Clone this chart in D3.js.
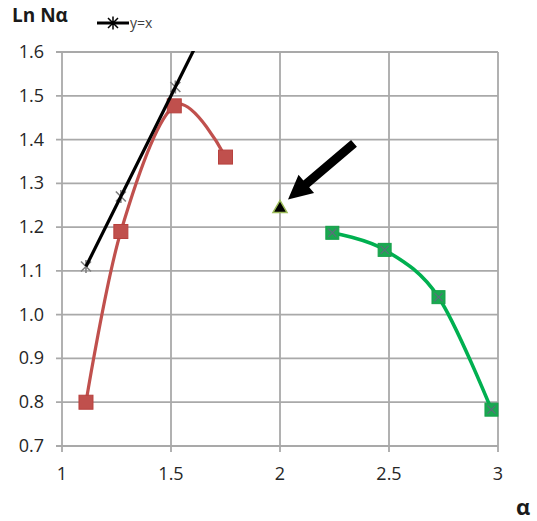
<!DOCTYPE html>
<html>
<head>
<meta charset="utf-8">
<script src="https://cdn.jsdelivr.net/npm/d3@7"></script>
<style>
  html, body { margin: 0; padding: 0; background: #fff; }
  svg { display: block; }
</style>
</head>
<body>
<svg id="chart" width="537" height="521"></svg>
<script>
// Ln Nα against α for the two branches, the y = x reference and the marked point
const redAlpha = [1.11, 1.27, 1.515, 1.75];
const redLnN   = [0.80, 1.19, 1.477, 1.36];
const refAlpha = [1.11, 1.27, 1.52, 1.75];
const refLnN   = [1.11, 1.27, 1.52, 1.75];
const greenAlpha = [2.24, 2.48, 2.727, 2.97];
const greenLnN   = [1.187, 1.148, 1.04, 0.783];
const markAlpha = [2.0];
const markLnN   = [1.245];
const xTicks = [1, 1.5, 2, 2.5, 3];
const yTicks = [0.7, 0.8, 0.9, 1.0, 1.1, 1.2, 1.3, 1.4, 1.5, 1.6];

const svg = d3.select("#chart");
const plotLeft = 62, plotRight = 498, plotTop = 52, plotBottom = 446;
const x = d3.scaleLinear().domain([1, 3]).range([plotLeft, plotRight]);
const y = d3.scaleLinear().domain([0.7, 1.6]).range([plotBottom, plotTop]);

const gridColor = "#a9a9a9";
const font = "'Open Sans', 'Liberation Sans', sans-serif";
const labelColor = "#262626";

// grid
svg.append("g").selectAll("line").data(yTicks).join("line")
  .attr("x1", plotLeft - 6).attr("x2", plotRight)
  .attr("y1", d => y(d)).attr("y2", d => y(d))
  .attr("stroke", gridColor).attr("stroke-width", 1.8);
svg.append("g").selectAll("line").data(xTicks).join("line")
  .attr("x1", d => x(d)).attr("x2", d => x(d))
  .attr("y1", plotTop).attr("y2", plotBottom + 6)
  .attr("stroke", gridColor).attr("stroke-width", 1.8);

// tick labels
svg.append("g").selectAll("text").data(yTicks).join("text")
  .attr("x", 44).attr("y", d => y(d) + 6)
  .attr("text-anchor", "end")
  .attr("font-family", font).attr("font-size", 18).attr("fill", labelColor)
  .text(d => d3.format(".1f")(d));
svg.append("g").selectAll("text").data(xTicks).join("text")
  .attr("x", d => x(d)).attr("y", 480)
  .attr("text-anchor", "middle")
  .attr("font-family", font).attr("font-size", 18).attr("fill", labelColor)
  .text(d => d3.format("~g")(d));

// axis titles
svg.append("text").attr("x", 12).attr("y", 22)
  .attr("font-family", font).attr("font-weight", "bold").attr("font-size", 19)
  .attr("fill", "#1a1a1a").text("Ln Nα");
svg.append("text").attr("x", 516).attr("y", 515)
  .attr("font-family", font).attr("font-weight", "bold").attr("font-size", 22)
  .attr("fill", "#1a1a1a").text("α");

// clip to plot area
svg.append("defs").append("clipPath").attr("id", "plot")
  .append("rect").attr("x", plotLeft).attr("y", plotTop - 1)
  .attr("width", plotRight - plotLeft + 6).attr("height", plotBottom - plotTop + 2);

const smooth = d3.line().curve(d3.curveCatmullRom.alpha(0))
  .x(d => x(d[0])).y(d => y(d[1]));

const red = d3.zip(redAlpha, redLnN);
const ref = d3.zip(refAlpha, refLnN);
const green = d3.zip(greenAlpha, greenLnN);

const plot = svg.append("g").attr("clip-path", "url(#plot)");

// star marker path
function star(cx, cy, r) {
  return `M${cx - r},${cy - r}L${cx + r},${cy + r}M${cx - r},${cy + r}L${cx + r},${cy - r}M${cx},${cy - r * 1.3}L${cx},${cy + r * 1.3}`;
}

// y = x star markers (underneath the line)
plot.append("g").selectAll("path").data(ref).join("path")
  .attr("d", d => star(x(d[0]), y(d[1]), 5))
  .attr("stroke", "#7f7f7f").attr("stroke-width", 1.6).attr("fill", "none");

// red branch
plot.append("path").datum(red).attr("d", smooth)
  .attr("fill", "none").attr("stroke", "#c0504d").attr("stroke-width", 3.2);
plot.append("g").selectAll("rect").data(red).join("rect")
  .attr("x", d => x(d[0]) - 7).attr("y", d => y(d[1]) - 7)
  .attr("width", 14).attr("height", 14)
  .attr("fill", "#c0504d").attr("stroke", "#b8413e").attr("stroke-width", 1);

// y = x line
plot.append("path").datum(ref)
  .attr("d", d3.line().x(d => x(d[0])).y(d => y(d[1])))
  .attr("fill", "none").attr("stroke", "#000").attr("stroke-width", 3.2);

// green branch
plot.append("path").datum(green).attr("d", smooth)
  .attr("fill", "none").attr("stroke", "#00b050").attr("stroke-width", 3.6);
const gm = plot.append("g").selectAll("g").data(green).join("g")
  .attr("transform", d => `translate(${x(d[0])},${y(d[1])})`);
gm.append("rect").attr("x", -6.5).attr("y", -6.5).attr("width", 13).attr("height", 13)
  .attr("fill", "#1aa851").attr("stroke", "#16a04a").attr("stroke-width", 1);
gm.append("path").attr("d", "M-4,-4L4,4M-4,4L4,-4")
  .attr("stroke", "#5a6f7a").attr("stroke-width", 1.3);

// marked point
const mark = d3.zip(markAlpha, markLnN);
plot.append("g").selectAll("path").data(mark).join("path")
  .attr("d", d => {
    const cx = x(d[0]), cy = y(d[1]);
    return `M${cx},${cy - 7}L${cx + 7},${cy + 5}L${cx - 7},${cy + 5}Z`;
  })
  .attr("fill", "#000").attr("stroke", "#9bbb59").attr("stroke-width", 1.5);

// arrow pointing at the marked point
const tipX = x(markAlpha[0]) + 8, tipY = y(markLnN[0]) - 8;
const tailX = tipX + 66, tailY = tipY - 56;
const ang = Math.atan2(tailY - tipY, tailX - tipX);
const len = Math.hypot(tailX - tipX, tailY - tipY);
const headLen = 24, headW = 12, shaftW = 4.5;
const arrow = svg.append("g")
  .attr("transform", `translate(${tipX},${tipY}) rotate(${ang * 180 / Math.PI})`);
arrow.append("path")
  .attr("d", `M0,0L${headLen},${-headW}L${headLen},${-shaftW}L${len},${-shaftW}L${len},${shaftW}L${headLen},${shaftW}L${headLen},${headW}Z`)
  .attr("fill", "#000");

// legend
const lg = svg.append("g");
lg.append("line").attr("x1", 97).attr("x2", 129).attr("y1", 23).attr("y2", 23)
  .attr("stroke", "#000").attr("stroke-width", 3);
lg.append("path").attr("d", star(113, 23, 5))
  .attr("stroke", "#000").attr("stroke-width", 1.5).attr("fill", "none");
lg.append("text").attr("x", 130).attr("y", 28)
  .attr("font-family", font).attr("font-size", 14).attr("fill", "#404040")
  .text("y=x");
</script>
</body>
</html>
